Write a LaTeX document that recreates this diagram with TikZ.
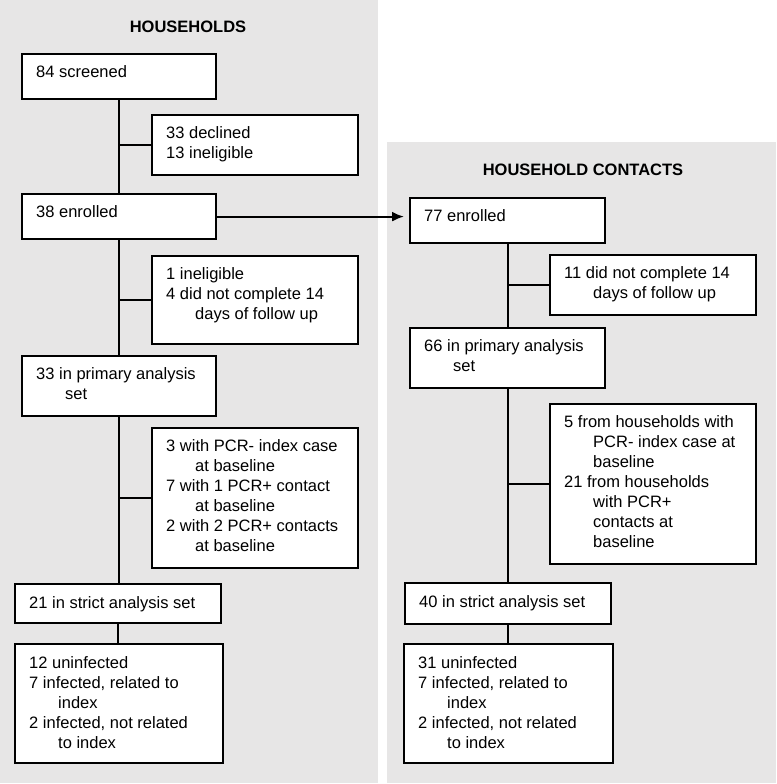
\documentclass[tikz,border=0pt]{standalone}
\usepackage{fontspec}
\setmainfont{Liberation Sans}
\usetikzlibrary{calc,arrows.meta}
\definecolor{panelgray}{RGB}{231,230,230}
\newcommand\myind{\hspace*{29pt}}
\newcommand\topstrut{\rule{0pt}{16pt}}
\tikzset{
  panel/.style={fill=panelgray},
  box/.style={draw=black, line width=2.2pt, fill=white, rectangle, inner sep=0pt, anchor=north west},
  txt/.style={inner sep=0pt, anchor=north west, align=left, font=\fontsize{16.5}{20}\selectfont},
  ttl/.style={inner sep=0pt, font=\fontsize{16.5}{20}\selectfont\bfseries},
  conn/.style={draw=black, line width=2pt},
}
\begin{document}
\begin{tikzpicture}[x=1pt,y=-1pt]
\useasboundingbox (0,0) rectangle (776,784);
\fill[panel] (0,0) rectangle (378,783);
\fill[panel] (387,142) rectangle (776,783);

\node[ttl] (tl) at (188,26.5) {HOUSEHOLDS};
\node[ttl] (tr) at (583,169.5) {HOUSEHOLD CONTACTS};

% left column
\node[box,minimum width=194pt,minimum height=45pt] (L1) at (21,53) {};
\node[box,minimum width=206pt,minimum height=60pt] (L2) at (151,114) {};
\node[box,minimum width=194pt,minimum height=45pt] (L3) at (21,193) {};
\node[box,minimum width=206pt,minimum height=88pt] (L4) at (151,255) {};
\node[box,minimum width=194pt,minimum height=60pt] (L5) at (21,355) {};
\node[box,minimum width=206pt,minimum height=140pt] (L6) at (151,427) {};
\node[box,minimum width=206pt,minimum height=39pt] (L7) at (14,583) {};
\node[box,minimum width=208pt,minimum height=119pt] (L8) at (14,643) {};

% right column
\node[box,minimum width=195pt,minimum height=45pt] (R1) at (409,197) {};
\node[box,minimum width=206pt,minimum height=60pt] (R2) at (549,254) {};
\node[box,minimum width=195pt,minimum height=60pt] (R3) at (409,327) {};
\node[box,minimum width=206pt,minimum height=160pt] (R4) at (549,403) {};
\node[box,minimum width=206pt,minimum height=41pt] (R5) at (404,582) {};
\node[box,minimum width=209pt,minimum height=119pt] (R6) at (403,643) {};

% texts
\node[txt] (L1t) at ($(L1.north west)+(15,8)$) {\topstrut84 screened};
\node[txt] (L2t) at ($(L2.north west)+(15,8)$) {\topstrut33 declined\\13 ineligible};
\node[txt] (L3t) at ($(L3.north west)+(15,8)$) {\topstrut38 enrolled};
\node[txt] (L4t) at ($(L4.north west)+(15,8)$) {\topstrut1 ineligible\\4 did not complete 14\\\myind days of follow up};
\node[txt] (L5t) at ($(L5.north west)+(15,8)$) {\topstrut33 in primary analysis\\\myind set};
\node[txt] (L6t) at ($(L6.north west)+(15,8)$) {\topstrut3 with PCR- index case\\\myind at baseline\\7 with 1 PCR+ contact\\\myind at baseline\\2 with 2 PCR+ contacts\\\myind at baseline};
\node[txt] (L7t) at ($(L7.north west)+(15,9)$) {\topstrut21 in strict analysis set};
\node[txt] (L8t) at ($(L8.north west)+(15,9)$) {\topstrut12 uninfected\\7 infected, related to\\\myind index\\2 infected, not related\\\myind to index};

\node[txt] (R1t) at ($(R1.north west)+(15,8)$) {\topstrut77 enrolled};
\node[txt] (R2t) at ($(R2.north west)+(15,8)$) {\topstrut11 did not complete 14\\\myind days of follow up};
\node[txt] (R3t) at ($(R3.north west)+(15,8)$) {\topstrut66 in primary analysis\\\myind set};
\node[txt] (R4t) at ($(R4.north west)+(15,8)$) {\topstrut5 from households with\\\myind PCR- index case at\\\myind baseline\\21 from households\\\myind with PCR+\\\myind contacts at\\\myind baseline};
\node[txt] (R5t) at ($(R5.north west)+(15,9)$) {\topstrut40 in strict analysis set};
\node[txt] (R6t) at ($(R6.north west)+(15,9)$) {\topstrut31 uninfected\\7 infected, related to\\\myind index\\2 infected, not related\\\myind to index};

% connectors left
\draw[conn] (L1.south) -- (L1.south |- L3.north);
\draw[conn] (L1.south |- L2.west) -- (L2.west);
\draw[conn] (L3.south) -- (L3.south |- L5.north);
\draw[conn] (L3.south |- L4.west) -- (L4.west);
\draw[conn] (L5.south) -- (L5.south |- L7.north);
\draw[conn] (L5.south |- L6.west) -- (L6.west);
\draw[conn] (L7.south) -- (L7.south |- L8.north);

% connectors right
\draw[conn] (R1.south) -- (R1.south |- R3.north);
\draw[conn] (R1.south |- R2.west) -- (R2.west);
\draw[conn] (R3.south) -- (R3.south |- R5.north);
\draw[conn] (R3.south |- R4.west) -- (R4.west);
\draw[conn] (R5.south) -- (R5.south |- R6.north);

% arrow between panels
\draw[conn,-{Latex[length=12pt,width=10pt]},shorten >=5pt] (L3.east) -- (L3.east -| R1.west);
\end{tikzpicture}
\end{document}
